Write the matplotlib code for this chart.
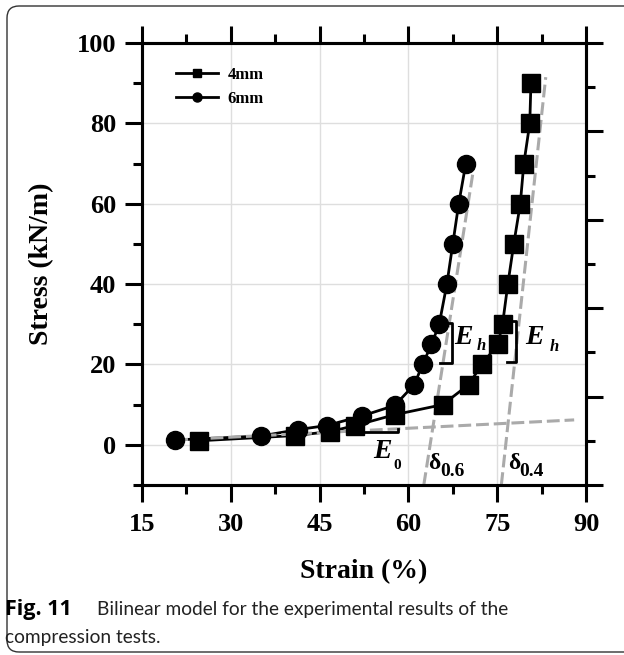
import matplotlib
matplotlib.use("Agg")
import matplotlib.pyplot as plt
from matplotlib.lines import Line2D
from matplotlib.patches import FancyBboxPatch
from matplotlib.ticker import MultipleLocator
from matplotlib.transforms import IdentityTransform

# ---- data ----
strain_4mm = [24.6, 40.8, 46.8, 51.0, 57.7, 65.8, 70.2, 72.4, 75.1, 75.9,
              76.8, 77.8, 78.9, 79.5, 80.5, 80.7]
stress_4mm = [1.0, 2.3, 3.3, 4.8, 7.5, 10, 15, 20, 25, 30,
              40, 50, 60, 70, 80, 90]
strain_6mm = [20.6, 35.1, 41.4, 46.2, 52.2, 57.7, 61.0, 62.4, 63.9, 65.2,
              66.5, 67.5, 68.5, 69.7]
stress_6mm = [1.2, 2.2, 3.8, 4.8, 7.2, 9.8, 15, 20, 25, 30,
              40, 50, 60, 70]

# bilinear fit lines (gray dashed)
fit_e0_x, fit_e0_y = [20.6, 88.0], [1.2, 6.2]
fit_6mm_x, fit_6mm_y = [62.6, 71.2], [-10, 70.5]
fit_4mm_x, fit_4mm_y = [75.7, 83.2], [-10, 91.5]

# slope brackets
eh6_x, eh6_y = [66.8, 67.4, 67.4, 65.3], [30.4, 30.4, 20.4, 20.4]
eh4_x, eh4_y = [77.5, 78.2, 78.2, 76.6], [30.9, 30.9, 20.5, 20.5]
e0_x, e0_y = [50.1, 58.2, 58.2], [3.1, 3.1, 4.0]

# symbol labels: (main, x, y, subscript, sub_x, sub_y)
symbols = [
    ("E", 67.8, 25.2, "h", 71.6, 23.6),
    ("E", 79.7, 25.2, "h", 83.8, 23.4),
    ("E", 54.0, -3.2, "0", 57.4, -6.0),
    ("δ", 63.3, -6.0, "0.6", 65.3, -7.7),
    ("δ", 76.8, -6.0, "0.4", 78.8, -7.7),
]

SERIF = "Liberation Serif"

fig = plt.figure(figsize=(6.24, 6.55), dpi=100)
ax = fig.add_axes([142 / 624, 1 - 485 / 655, 444 / 624, 442 / 655])

GRAY = "#aaaaaa"
dash = (0, (4.2, 1.6))

ax.plot(strain_4mm, stress_4mm, "-", color="black", lw=2, zorder=2)
ax.plot(strain_6mm, stress_6mm, "-", color="black", lw=2, zorder=2)
for xs, ys in [(fit_e0_x, fit_e0_y), (fit_6mm_x, fit_6mm_y), (fit_4mm_x, fit_4mm_y)]:
    ax.plot(xs, ys, color=GRAY, lw=2.2, ls=dash, zorder=3)
ax.plot(strain_4mm, stress_4mm, "s", color="black", ms=12.5, zorder=4)
ax.plot(strain_6mm, stress_6mm, "o", color="black", ms=13, zorder=4)

for xs, ys in [(eh6_x, eh6_y), (eh4_x, eh4_y), (e0_x, e0_y)]:
    ax.plot(xs, ys, color="black", lw=2, zorder=5)

for main, x, y, sub, sx, sy in symbols:
    if main == "E":
        ax.text(x, y, main, fontfamily=SERIF, fontweight="bold", fontstyle="italic",
                fontsize=20, ha="left", va="baseline", zorder=6)
    else:
        ax.text(x, y, main, fontfamily=SERIF, fontweight="bold",
                fontsize=17, ha="left", va="baseline", zorder=6)
    sub_style = "italic" if sub == "h" else "normal"
    sub_size = {"h": 12, "0": 11}.get(sub, 14)
    ax.text(sx, sy, sub, fontfamily=SERIF, fontweight="bold", fontstyle=sub_style,
            fontsize=sub_size, ha="left", va="baseline", zorder=6)

ax.set_xlim(15, 90)
ax.set_ylim(-10, 100)
ax.xaxis.set_major_locator(MultipleLocator(15))
ax.xaxis.set_minor_locator(MultipleLocator(7.5))
ax.yaxis.set_major_locator(MultipleLocator(20))
ax.yaxis.set_minor_locator(MultipleLocator(10))
ax.grid(True, which="major", color="#dedede", lw=1, zorder=0)
ax.set_axisbelow(True)

ax.tick_params(which="both", direction="out", top=True, right=False, width=2.2,
               color="black")
ax.tick_params(which="major", length=12.5)
ax.tick_params(which="minor", length=6.5)
ax.tick_params(axis="x", pad=8)
ax.tick_params(axis="y", pad=6)
for lab in ax.get_xticklabels() + ax.get_yticklabels():
    lab.set_fontfamily(SERIF)
    lab.set_fontweight("bold")
    lab.set_fontsize(19)
for sp in ax.spines.values():
    sp.set_linewidth(2.2)

ax.set_xlabel("Strain (%)", fontfamily=SERIF, fontweight="bold", fontsize=20)
ax.set_ylabel("Stress (kN/m)", fontfamily=SERIF, fontweight="bold", fontsize=20)
ax.xaxis.set_label_coords(0.5, -0.168)
ax.yaxis.set_label_coords(-0.198, 0.5)

# right axis carries its own evenly spaced ticks
ax2 = ax.twinx()
ax2.set_ylim(0, 10)
ax2.yaxis.set_major_locator(MultipleLocator(2))
ax2.yaxis.set_minor_locator(MultipleLocator(1))
ax2.tick_params(which="both", direction="out", width=2.2, labelright=False)
ax2.tick_params(which="major", length=12.5)
ax2.tick_params(which="minor", length=6.5)
for sp in ax2.spines.values():
    sp.set_linewidth(2.2)

handles = [
    Line2D([], [], color="black", lw=2, marker="s", ms=6),
    Line2D([], [], color="black", lw=2, marker="o", ms=6.5),
]
ax.legend(handles, ["4mm", "6mm"], loc="upper left", bbox_to_anchor=(0.077, 0.945),
          frameon=False, borderpad=0, borderaxespad=0, handlelength=2.5,
          handletextpad=0.6, labelspacing=0.45,
          prop={"family": SERIF, "weight": "bold", "size": 12})

# caption and rounded frame
fig.text(5 / 624, 1 - 615 / 655, "Fig. 11", fontfamily="Open Sans", fontweight="bold",
         fontsize=15.5, va="baseline")
fig.text(97 / 624, 1 - 615 / 655, "Bilinear model for the experimental results of the",
         fontfamily="Lato", fontsize=13.8, va="baseline", color="#222222")
fig.text(5 / 624, 1 - 643 / 655, "compression tests.", fontfamily="Lato",
         fontsize=13.8, va="baseline", color="#222222")

frame = FancyBboxPatch((7, 3), 700, 646, boxstyle="round,pad=0,rounding_size=12",
                       transform=IdentityTransform(), fill=False,
                       edgecolor="#333333", lw=1)
fig.patches.append(frame)

fig.savefig("out.png", dpi=100)
